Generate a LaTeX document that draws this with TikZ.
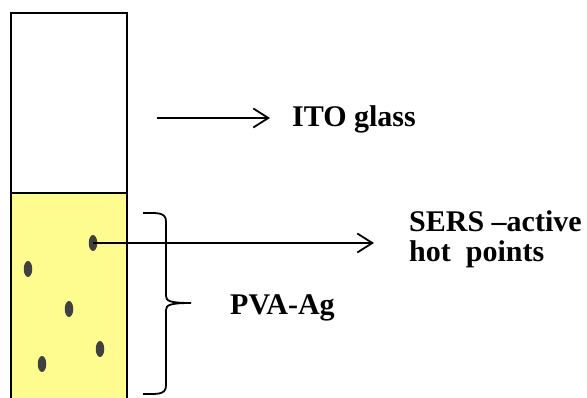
\documentclass[tikz,border=0pt]{standalone}
\usepackage{fontspec}
\setmainfont{Liberation Serif}
\usetikzlibrary{arrows.meta,shapes.geometric}
\definecolor{pvayellow}{HTML}{FFFC8F}
\definecolor{dotgray}{HTML}{404040}
\tikzset{
  dotnode/.style={ellipse, fill=dotgray, inner sep=0pt, minimum width=8.5pt, minimum height=16pt},
  lbl/.style={font=\bfseries\fontsize{30}{30}\selectfont, inner sep=0pt, anchor=base west, align=left},
  arr/.style={line width=1.8pt, -{Straight Barb[length=15pt,width=19pt,line width=1.8pt]}},
  edge/.style={line width=2.5pt}
}
\begin{document}
\begin{tikzpicture}[x=1pt,y=1pt]
\useasboundingbox (0,0) rectangle (587,-398);
% glass
\fill[pvayellow] (11,-193) rectangle (127,-400);
\draw[edge] (11,-400) -- (11,-13) -- (127,-13) -- (127,-400);
\draw[edge] (11,-193) -- (127,-193);
% dots
\node[dotnode] (d1) at (93,-243) {};
\node[dotnode] (d2) at (28,-269) {};
\node[dotnode] (d3) at (69,-309) {};
\node[dotnode] (d4) at (100,-349) {};
\node[dotnode] (d5) at (42,-364) {};
% labels
\node[lbl] (ito) at (292,-127) {ITO glass};
\node[lbl] (sers) at (409,-262) {SERS –active\\hot\ \ points};
\node[lbl] (pva) at (230,-315) {PVA-Ag};
% arrows
\coordinate (a1) at (157,-118);
\coordinate (a1e) at (270,-118);
\draw[arr] (a1) -- (a1e);
\coordinate (a2e) at (374,-239);
\draw[arr] (d1.center) -- (a2e |- d1.center);
% brace
\draw[line width=1.8pt] (143,-213) .. controls (158,-213) and (166,-212) .. (166,-222)
  -- (166,-296) .. controls (166,-301) and (170,-303) .. (191,-303)
  (166,-310) .. controls (166,-305) and (170,-303) .. (191,-303)
  (166,-310) -- (166,-385) .. controls (166,-395) and (158,-394) .. (143,-394);
\end{tikzpicture}
\end{document}
